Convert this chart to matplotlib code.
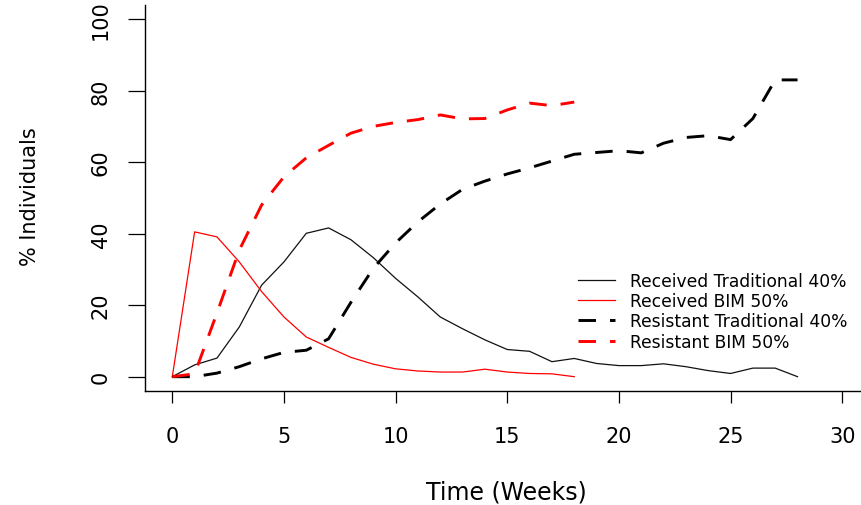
import matplotlib
matplotlib.use("Agg")
import matplotlib.pyplot as plt

plt.rcParams["font.family"] = ["DejaVu Sans"]

# Weekly time points
weeks_trad = list(range(0, 29))
weeks_bim = list(range(0, 19))

# % individuals who received treatment
received_trad = [0, 3.3, 5.2, 13.9, 25.6, 32.1, 40.1, 41.6, 38.3, 33.3, 27.5,
                 22.3, 16.7, 13.4, 10.3, 7.6, 7.1, 4.2, 5.1, 3.7, 3.1,
                 3.1, 3.6, 2.8, 1.7, 0.9, 2.4, 2.4, 0]
received_bim = [0, 40.5, 39.1, 32.1, 23.8, 16.7, 11.1, 8.2, 5.4, 3.5, 2.2,
                1.6, 1.3, 1.3, 2.1, 1.3, 0.9, 0.8, 0]

# % individuals who became resistant
resistant_trad = [0, 0, 1.0, 2.8, 5.0, 6.8, 7.4, 10.6, 20.8, 30.3, 37.4,
                  43.3, 48.3, 52.4, 54.7, 56.7, 58.4, 60.3, 62.2, 62.7, 63.2,
                  62.6, 65.3, 66.9, 67.4, 66.3, 72.2, 83.0, 83.0]
resistant_bim = [0, 0.8, 17.8, 35.4, 48.0, 55.9, 61.2, 64.7, 68.1, 70.0, 71.1,
                 71.9, 73.2, 72.1, 72.2, 74.6, 76.5, 75.8, 76.8]

labels = ["Received Traditional 40%", "Received BIM 50%",
          "Resistant Traditional 40%", "Resistant BIM 50%"]
x_ticks = [0, 5, 10, 15, 20, 25, 30]
y_ticks = [0, 20, 40, 60, 80, 100]

W, H = 862, 506
fig = plt.figure(figsize=(W / 100, H / 100), dpi=100)
ax = fig.add_axes([145.5 / W, (H - 392) / H, (869 - 145.5) / W, (392 - 5.8) / H])

dash = (6, 4.8)
ax.plot(weeks_trad, received_trad, color="#111111", lw=0.9, label=labels[0])
ax.plot(weeks_bim, received_bim, color="#ff0000", lw=0.9, label=labels[1])
ax.plot(weeks_trad, resistant_trad, color="black", lw=2.1, dashes=dash,
        label=labels[2])
ax.plot(weeks_bim, resistant_bim, color="#ff0000", lw=2.1, dashes=dash,
        label=labels[3])

ax.set_xlim(-1.2, 31.2)
ax.set_ylim(-4, 104)
ax.set_xticks(x_ticks)
ax.set_yticks(y_ticks)
ax.set_yticklabels([str(v) for v in y_ticks], rotation=90, va="center")
ax.spines["top"].set_visible(False)
ax.spines["right"].set_visible(False)
for s in ("left", "bottom"):
    ax.spines[s].set_linewidth(1.0)
ax.tick_params(axis="x", length=8.9, width=0.9, pad=16, labelsize=15,
               colors="black")
ax.tick_params(axis="y", length=12, width=0.9, pad=13, labelsize=15,
               colors="black")

fig.text(506 / W, 1 - 493 / H, "Time (Weeks)", fontsize=17, ha="center",
         va="center")
fig.text(30 / W, 1 - 197 / H, "% Individuals", fontsize=15, ha="center",
         va="center", rotation=90)

ax.legend(loc="upper left", bbox_to_anchor=(578 / W, 1 - 273 / H),
          bbox_transform=fig.transFigure, frameon=False, fontsize=12.3,
          handlelength=2.15, handletextpad=0.9, borderpad=0,
          borderaxespad=0, labelspacing=0.13)

fig.savefig("out.png", dpi=100)
